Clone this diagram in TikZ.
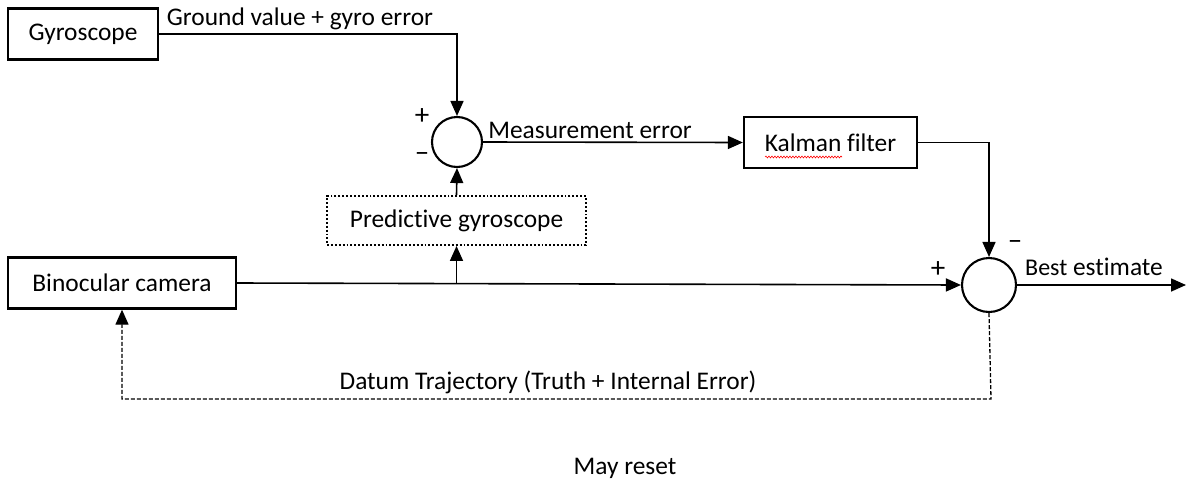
\documentclass[tikz,border=0pt]{standalone}
\usepackage{fontspec}
\setmainfont{Carlito}[Ligatures=NoCommon]
\usetikzlibrary{arrows.meta,decorations.pathmorphing}

\begin{document}
\begin{tikzpicture}[x=1pt, y=-1pt,
        font=\fontsize{25.4}{30}\selectfont,
        block/.style={draw, line width=2.3pt, minimum height=51pt, inner sep=0pt},
        sum/.style={circle, draw, line width=2.1pt, inner sep=0pt},
        sign/.style={font=\fontsize{29}{31}\selectfont, inner sep=0pt},
        link/.style={line width=1.6pt, -{Triangle[length=15pt, width=13pt]}}]
    \useasboundingbox (0,0) rectangle (1186,485);

    \node[block, minimum width=150pt] (gyro) at (83,34) {Gyroscope};
    \node[block, minimum width=173pt] (kalman) at (830.5,142.5) {Kalman filter};
    \node[block, minimum width=228pt] (camera) at (122,283) {Binocular camera};
    \node[draw, dotted, line width=1.9pt, minimum width=259pt, minimum height=49pt]
        (pred) at (456.5,220.5) {Predictive gyroscope};
    \node[sum, minimum size=50pt] (sum1) at (457,142) {};
    \node[sum, minimum size=54pt] (sum2) at (989,285) {};

    % signs at the summing points
    \node[sign] (p1) at (422,117) {+};
    \node[sign] (m1) at (422,157) {–};
    \node[sign] (p2) at (938,270) {+};
    \node[sign] (m2) at (1015,245) {–};

    % signal names
    \node (gyrolabel) at (300,19) {Ground value + gyro error};
    \node (errlabel) at (590,130) {Measurement error};
    \node (bestlabel) at (1094,267) {{\fontsize{24}{28}\selectfont Best} estimate};
    \node (datum) at (548,382) {Datum Trajectory (Truth + Internal Error)};
    \node (reset) at (625,468) {May reset};

    \coordinate (split) at (pred.south |- camera.east);
    \coordinate (out) at (1186,285);
    \coordinate (back) at (991,399);

    \draw[link] (gyro.east) -| (sum1.north);
    \draw[link] (sum1.east) -- (kalman.west);
    \draw[link] (kalman.east) -| (sum2.north);
    \draw[link] (camera.east) -- (sum2.west);
    \draw[link] (split) -- (pred.south);
    \draw[link] (pred.north) -- (sum1.south);
    \draw[link] (sum2.east) -- (out);
    \draw[link, line width=1.3pt, dashed, dash pattern=on 4pt off 2pt] (sum2.south) -- (back) -| (camera.south);

    % spell-check squiggle under the filter name
    \draw[red, line width=0.6pt, decorate, decoration={snake, amplitude=0.9pt, segment length=3pt}]
        (765,157) -- (842,157);
\end{tikzpicture}
\end{document}
